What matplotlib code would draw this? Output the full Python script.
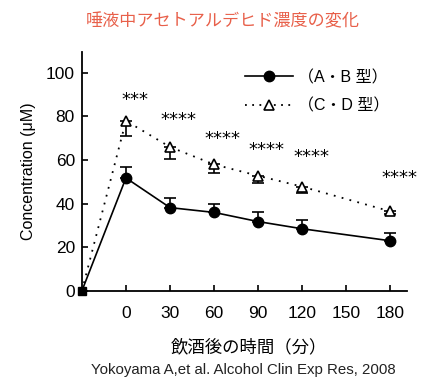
import matplotlib
matplotlib.use("Agg")
import matplotlib.pyplot as plt
from matplotlib.lines import Line2D

plt.rcParams['font.family'] = ['Liberation Sans', 'Noto Sans CJK JP', 'DejaVu Sans']

# Data
time = [-30, 0, 30, 60, 90, 120, 180]
ab_mean = [0, 51.8, 38.2, 36.0, 31.8, 28.5, 23.0]
ab_err = [0, 5.0, 4.3, 4.0, 4.4, 4.0, 3.5]
cd_mean = [0, 78.0, 66.0, 58.0, 52.8, 47.8, 36.5]
cd_err = [0, 6.8, 5.5, 4.0, 3.2, 3.0, 1.2]
star_time = [0, 30, 60, 90, 120, 180]
star_y = [87.5, 78.5, 69.5, 64.5, 61.5, 52.0]
star_text = ['***', '****', '****', '****', '****', '****']
xtick_vals = [0, 30, 60, 90, 120, 150, 180]
ytick_vals = [0, 20, 40, 60, 80, 100]
legend_labels = ['（A・B 型）', '（C・D 型）']

fig = plt.figure(figsize=(4.45, 3.9), dpi=100)
ax = fig.add_axes([0.184, 0.254, 0.731, 0.613])

# AB series
ax.plot(time, ab_mean, color='black', lw=1.2, zorder=3)
ax.errorbar(time[1:], ab_mean[1:], yerr=[[0]*6, ab_err[1:]], fmt='o', color='black',
            ms=7.5, capsize=4, elinewidth=1.2, capthick=1.2, zorder=4)
# CD series
ax.plot(time, cd_mean, color='black', lw=1.3, ls=(0, (1, 3.5)), zorder=3)
ax.errorbar(time[1:], cd_mean[1:], yerr=[cd_err[1:], [0]*6], fmt='^', color='black',
            mfc='white', mec='black', mew=1.2, ms=7, capsize=4, elinewidth=1.2,
            capthick=1.2, zorder=5)
# origin marker
ax.plot(time[:1], ab_mean[:1], marker='s', color='black', ms=6, zorder=6, clip_on=False)

for t, y, s in zip(star_time, star_y, star_text):
    ax.text(t + 6, y, s, ha='center', va='center', fontsize=13,
            family='DejaVu Sans')

ax.set_xlim(-30, 191.5)
ax.set_ylim(0, 109.6)
ax.set_xticks(xtick_vals)
ax.set_yticks(ytick_vals)
ax.tick_params(direction='in', length=4, width=1.2, labelsize=12.5, colors='black')
ax.tick_params(axis='x', pad=11)
ax.tick_params(axis='y', pad=5)
for s in ['top', 'right']:
    ax.spines[s].set_visible(False)
for s in ['left', 'bottom']:
    ax.spines[s].set_linewidth(1.3)

ax.set_ylabel('Concentration (μM)', fontsize=11.5, labelpad=7)

h1 = Line2D([], [], color='black', lw=1.2, marker='o', ms=7.5)
h2 = Line2D([], [], color='black', lw=1.3, ls=(0, (1, 3)), marker='^', mfc='white',
            mec='black', mew=1.2, ms=7)
ax.legend([h1, h2], legend_labels, loc='upper right', bbox_to_anchor=(0.99, 0.985),
          frameon=False, fontsize=11.5, handlelength=3.0, handletextpad=0.3,
          labelspacing=0.85)

fig.text(0.5, 0.945, '唾液中アセトアルデヒド濃度の変化', ha='center', va='center',
         fontsize=12.3, color='#E8604A')
fig.text(0.56, 0.11, '飲酒後の時間（分）', ha='center', va='center', fontsize=12.5)
fig.text(0.547, 0.052, 'Yokoyama A,et al. Alcohol Clin Exp Res, 2008', ha='center',
         va='center', fontsize=10.8, color='#222222')

fig.savefig('out.png', dpi=100)
